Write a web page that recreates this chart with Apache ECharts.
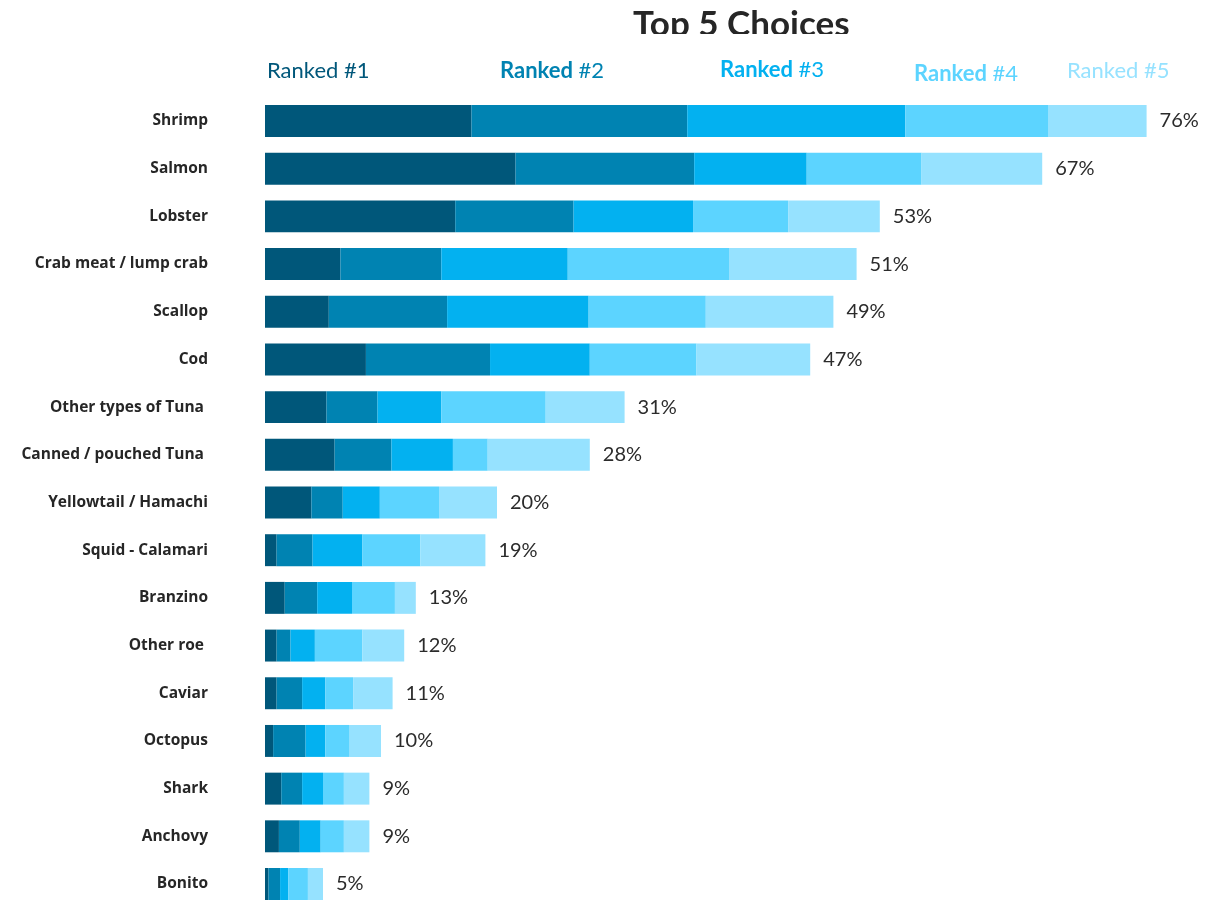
<!DOCTYPE html>
<html>
<head>
<meta charset="utf-8">
<script src="https://cdn.jsdelivr.net/npm/echarts@6/dist/echarts.min.js"></script>
<style>
  html, body { margin: 0; padding: 0; background: #ffffff; }
  #chart { width: 1211px; height: 901px; }
</style>
</head>
<body>
<div id="chart"></div>
<script>
// Seafood items, top to bottom
const categories = [
  'Shrimp', 'Salmon', 'Lobster', 'Crab meat / lump crab', 'Scallop', 'Cod',
  'Other types of Tuna ', 'Canned / pouched Tuna ', 'Yellowtail / Hamachi',
  'Squid - Calamari', 'Branzino', 'Other roe ', 'Caviar', 'Octopus',
  'Shark', 'Anchovy', 'Bonito'
];

const rankNames = ['Ranked #1', 'Ranked #2', 'Ranked #3', 'Ranked #4', 'Ranked #5'];

// Share of respondents (%) choosing each item at each rank
const ranked1 = [17.8, 21.6, 16.4, 6.5, 5.5, 8.7, 5.3, 6.0, 4.0, 1.0, 1.7, 1.0, 1.0, 0.7, 1.4, 1.2, 0.3];
const ranked2 = [18.6, 15.4, 10.2, 8.7, 10.2, 10.7, 4.4, 4.9, 2.7, 3.1, 2.8, 1.2, 2.2, 2.8, 1.8, 1.8, 1.0];
const ranked3 = [18.8, 9.7, 10.3, 10.9, 12.2, 8.6, 5.5, 5.3, 3.2, 4.3, 3.0, 2.1, 2.0, 1.7, 1.8, 1.8, 0.7];
const ranked4 = [12.3, 9.9, 8.2, 13.9, 10.1, 9.2, 9.0, 3.0, 5.1, 5.0, 3.7, 4.1, 2.4, 2.1, 1.8, 2.0, 1.7];
const ranked5 = [8.5, 10.4, 7.9, 11.0, 11.0, 9.8, 6.8, 8.8, 5.0, 5.6, 1.8, 3.6, 3.4, 2.7, 2.2, 2.2, 1.3];

// Top-5 totals shown at the end of each bar
const totals = [76, 67, 53, 51, 49, 47, 31, 28, 20, 19, 13, 12, 11, 10, 9, 9, 5];

const rankValues = [ranked1, ranked2, ranked3, ranked4, ranked5];
const rankColors = ['#00577a', '#0083b2', '#03b1f0', '#5cd4ff', '#96e2ff'];

const FONT = 'Lato, "Open Sans", sans-serif';

const series = rankNames.map((name, i) => {
  const s = {
    name: name,
    type: 'bar',
    stack: 'top5',
    barCategoryGap: '33%',
    clip: false,
    data: rankValues[i],
    itemStyle: { color: rankColors[i] },
    emphasis: { disabled: true }
  };
  if (i === rankNames.length - 1) {
    s.label = {
      show: true,
      position: 'right',
      distance: 13,
      fontFamily: FONT,
      fontSize: 20,
      color: '#2b2b2b',
      formatter: p => totals[p.dataIndex] + '%'
    };
  }
  return s;
});

// Column headings above the bars, one per rank
const headerX = [267, 500, 720, 914, 1067];
const headerY = [60, 60, 59, 63, 60];
const headerBold = [false, true, true, true, false];
const headers = rankNames.map((name, i) => {
  const parts = name.split(' ');
  return {
    type: 'text',
    left: headerX[i],
    top: headerY[i],
    z: 10,
    style: {
      text: headerBold[i] ? '{b|' + parts[0] + '} {r|' + parts[1] + '}' : name,
      fontFamily: FONT,
      fontSize: 22,
      fill: rankColors[i],
      rich: {
        b: { fontFamily: FONT, fontSize: 22, fontWeight: 'bold', fill: rankColors[i], color: rankColors[i] },
        r: { fontFamily: FONT, fontSize: 22, fill: rankColors[i], color: rankColors[i] }
      }
    }
  };
});

const chart = echarts.init(document.getElementById('chart'), null, { renderer: 'canvas' });

chart.setOption({
  backgroundColor: '#ffffff',
  animation: false,
  // rows sit on the category ticks so the first and last bar centres land at the grid edges
  grid: { left: 265, top: 121, width: 928, height: 763, containLabel: false },
  xAxis: {
    type: 'value',
    min: 0,
    max: 80,
    show: false,
    splitLine: { show: false }
  },
  yAxis: {
    type: 'category',
    inverse: true,
    boundaryGap: false,
    data: categories,
    axisLine: { show: false },
    axisTick: { show: false },
    splitLine: { show: false },
    axisLabel: {
      margin: 57,
      fontFamily: '"Open Sans", Lato, sans-serif',
      fontSize: 15.5,
      fontWeight: 'bold',
      color: '#262626'
    }
  },
  graphic: [
    {
      type: 'text',
      left: 633,
      top: 7,
      z: 5,
      style: {
        text: 'Top 5 Choices',
        fontFamily: FONT,
        fontSize: 35,
        fontWeight: 'bold',
        fill: '#262626'
      }
    },
    {
      // the heading is trimmed just below its baseline
      type: 'rect',
      left: 600,
      top: 34,
      z: 6,
      shape: { width: 300, height: 20 },
      style: { fill: '#ffffff' }
    }
  ].concat(headers),
  series: series
});
</script>
</body>
</html>
